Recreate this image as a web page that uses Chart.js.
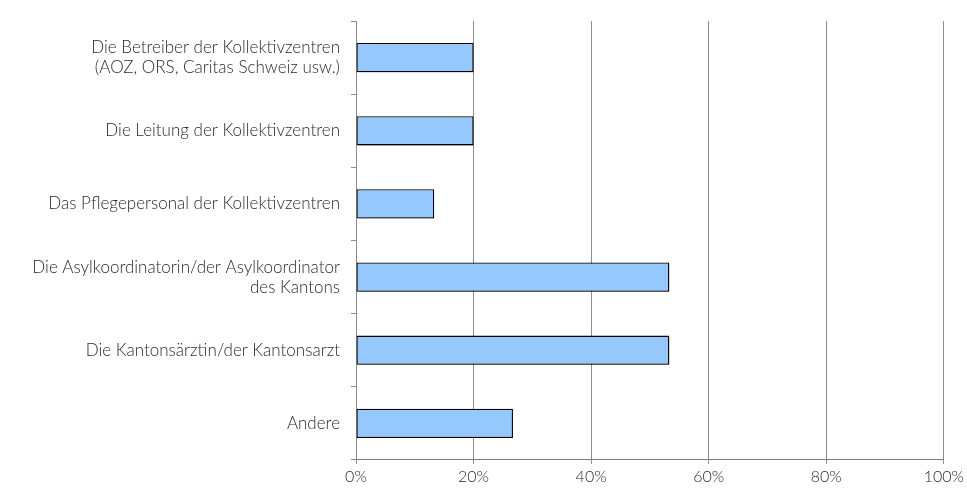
<!DOCTYPE html>
<html>
<head>
<meta charset="utf-8">
<script src="https://cdn.jsdelivr.net/npm/chart.js@4/dist/chart.umd.min.js"></script>
<style>
  html, body { margin: 0; padding: 0; background: #fff; }
  #wrap { width: 967px; height: 491px; }
</style>
</head>
<body>
<div id="wrap"><canvas id="chart"></canvas></div>
<script>
// ─── DATA ───
const categories = [
  ['Die Betreiber der Kollektivzentren', '(AOZ, ORS, Caritas Schweiz usw.)'],
  'Die Leitung der Kollektivzentren',
  'Das Pflegepersonal der Kollektivzentren',
  ['Die Asylkoordinatorin/der Asylkoordinator', 'des Kantons'],
  'Die Kantonsärztin/der Kantonsarzt',
  'Andere',
];
const shares = [20, 20, 13.3, 53.3, 53.3, 26.7];
const xTicks = [0, 20, 40, 60, 80, 100];

// ─── DEFAULTS ───
Chart.defaults.font.family = "'Lato', 'Open Sans', sans-serif";
Chart.defaults.font.weight = 300;
Chart.defaults.color = '#2b2b2b';
Chart.defaults.plugins.legend.display = false;
Chart.defaults.plugins.tooltip.enabled = false;

// soft drop shadow under the bars
const barShadow = {
  id: 'barShadow',
  beforeDatasetDraw(chart) {
    const ctx = chart.ctx;
    ctx.save();
    ctx.shadowColor = 'rgba(0,0,0,0.3)';
    ctx.shadowOffsetX = 2;
    ctx.shadowOffsetY = 2;
    ctx.shadowBlur = 1;
  },
  afterDatasetDraw(chart) {
    chart.ctx.restore();
  },
};

new Chart(document.getElementById('chart'), {
  type: 'bar',
  data: {
    labels: categories,
    datasets: [{
      data: shares,
      backgroundColor: '#95c9fd',
      borderColor: '#000000',
      borderWidth: 1.3,
      borderSkipped: false,
      barPercentage: 0.4,
      categoryPercentage: 1,
    }],
  },
  plugins: [barShadow],
  options: {
    responsive: true, maintainAspectRatio: false,
    animation: false,
    indexAxis: 'y',
    layout: { padding: { top: 17, right: 21, left: 0, bottom: 0 } },
    scales: {
      x: {
        min: 0, max: 100,
        afterBuildTicks: axis => { axis.ticks = xTicks.map(v => ({ value: v })); },
        afterFit: axis => { axis.height = 31; },
        border: { color: '#7f7f7f', width: 1 },
        grid: { color: '#8c8c8c', lineWidth: 1, tickLength: 4, drawTicks: true },
        ticks: {
          font: { size: 16 }, padding: 3, maxRotation: 0,
          callback: v => v + '%',
        },
      },
      y: {
        offset: true,
        afterFit: axis => { axis.width = 356; },
        border: { color: '#8c8c8c', width: 1 },
        grid: { offset: true, drawOnChartArea: false, tickLength: 5, color: '#8c8c8c' },
        ticks: { font: { size: 17, lineHeight: 1.18 }, padding: 11, autoSkip: false },
      },
    },
  },
});
</script>
</body>
</html>
